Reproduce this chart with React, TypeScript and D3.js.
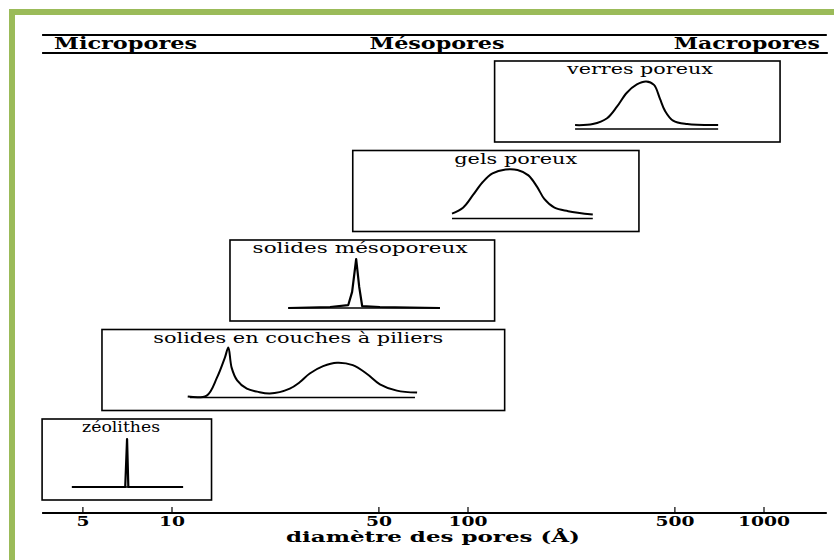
import React from 'react';
import * as d3 from 'd3';

// ---- data ----
const categories = ['verres poreux', 'gels poreux', 'solides mésoporeux', 'solides en couches à piliers', 'zéolithes'];
// diameter range (Å) covered by each box
const boxMin = [123, 40.8, 15.7, 5.8, 3.64];
const boxMax = [1133, 378, 123, 133, 13.6];
// diameter under the centre of each label
const labelAt = [381, 145, 43.2, 26.7, 6.73];
// diameter range of each baseline under the distributions
const baseMin = [230, 88.3, 24.7, 11.5, 4.59];
const baseMax = [700, 264, 80.4, 66.2, 10.9];

// pore size distributions: [diameter (Å), relative height]
const verresCurve: [number, number][] = [
  [230, 0.08], [264, 0.1], [295, 0.22], [319, 0.46], [344, 0.74], [372, 0.91], [400, 0.97],
  [425, 0.9], [445, 0.62], [463, 0.37], [493, 0.17], [550, 0.1], [700, 0.08],
];
const gelsCurve: [number, number][] = [
  [88.3, 0.1], [96.2, 0.22], [104, 0.48], [112, 0.74], [121, 0.92], [134, 1.0], [147, 0.99],
  [160, 0.88], [171, 0.65], [181, 0.4], [196, 0.22], [218, 0.15], [264, 0.08],
];
const mesoCurve: [number, number][] = [
  [24.7, 0], [34.2, 0.02], [39.4, 0.06], [40.6, 0.33], [41.9, 1.0], [42.9, 0.43], [43.9, 0.04],
  [50.4, 0.02], [80.4, 0],
];
const piliersCurve: [number, number][] = [
  [11.3, 0.02], [13.1, 0.04], [14.2, 0.41], [15.1, 0.82], [15.5, 1.02], [15.9, 0.61], [16.6, 0.35],
  [17.9, 0.18], [19.4, 0.12], [21.4, 0.08], [25.0, 0.18], [27.0, 0.31], [29.2, 0.49], [32.4, 0.64],
  [36.1, 0.71], [40.8, 0.66], [45.6, 0.48], [50.4, 0.27], [57.5, 0.14], [67.3, 0.1],
];
const zeoCurve: [number, number][] = [
  [4.59, 0], [6.95, 0], [7.05, 0.98], [7.12, 0], [10.9, 0],
];
const curves = [verresCurve, gelsCurve, mesoCurve, piliersCurve, zeoCurve];
const spiky = [false, false, true, false, true];

const regions = ['Micropores', 'Mésopores', 'Macropores'];
const tickValues = [5, 10, 50, 100, 500, 1000];
const axisDomain = [3.64, 1630];
const axisTitle = 'diamètre des pores (Å)';

// ---- layout ----
const W = 834;
const H = 560;
const GREEN = '#9bbb59';
const labelWidths = [146, 123, 215, 290, 78];
const regionWidths = [143, 135, 146];

export default function App() {
  const x = d3.scaleLog().domain([10, 1000]).range([172, 764]);
  const rows = d3.scaleBand<string>().domain(categories).range([61, 500]).paddingInner(0.095).paddingOuter(0);

  const x0 = x(axisDomain[0]);
  const x1 = x(axisDomain[1]);
  const serif = '"DejaVu Serif", serif';

  return (
    <svg width={W} height={H} style={{ position: 'absolute', left: 0, top: 0, background: '#fff' }}>
      <rect x={0} y={0} width={W} height={H} fill="#fff" />
      {/* green frame */}
      <rect x={9} y={9} width={W - 9} height={6} fill={GREEN} />
      <rect x={9} y={9} width={6} height={H - 9} fill={GREEN} />

      {/* header */}
      <line x1={x0} x2={x1} y1={35} y2={35} stroke="#000" strokeWidth={2} />
      <line x1={x0} x2={x1 + 1} y1={53} y2={53} stroke="#000" strokeWidth={2} />
      {regions.map((r, i) => {
        const anchor = i === 0 ? 'start' : i === 1 ? 'middle' : 'end';
        const px = i === 0 ? x0 + 12 : i === 1 ? 437 : x1 - 7;
        return (
          <text key={r} x={px} y={49} textAnchor={anchor} fontFamily={serif} fontWeight="bold" fontSize={16}
            textLength={regionWidths[i]} lengthAdjust="spacingAndGlyphs" fill="#000">{r}</text>
        );
      })}

      {/* boxes */}
      {categories.map((c, i) => {
        const top = rows(c)!;
        const bh = rows.bandwidth();
        const y = d3.scaleLinear().domain([0, 1]).range([top + 68, top + 19]);
        const line = d3.line<[number, number]>()
          .x(d => x(d[0]))
          .y(d => y(d[1]))
          .curve(spiky[i] ? d3.curveLinear : d3.curveCatmullRom.alpha(0.5));
        return (
          <g key={c}>
            <rect x={x(boxMin[i])} y={top} width={x(boxMax[i]) - x(boxMin[i])} height={bh}
              fill="none" stroke="#000" strokeWidth={1.6} />
            <text x={x(labelAt[i])} y={top + 13} textAnchor="middle" fontFamily={serif} fontSize={15}
              textLength={labelWidths[i]} lengthAdjust="spacingAndGlyphs" fill="#000">{c}</text>
            <line x1={x(baseMin[i])} x2={x(baseMax[i])} y1={y(0)} y2={y(0)} stroke="#000" strokeWidth={1.4} />
            <path d={line(curves[i]) || ''} fill="none" stroke="#000" strokeWidth={spiky[i] ? 2.2 : 2}
              strokeLinejoin="round" />
          </g>
        );
      })}

      {/* bottom axis */}
      <line x1={x0} x2={x1} y1={513} y2={513} stroke="#000" strokeWidth={2} />
      {tickValues.map(t => (
        <g key={t}>
          <line x1={x(t)} x2={x(t)} y1={507} y2={513} stroke="#000" strokeWidth={1.2} />
          <text x={x(t)} y={526} textAnchor="middle" fontFamily={serif} fontWeight="bold" fontSize={13}
            textLength={String(t).length * 13} lengthAdjust="spacingAndGlyphs" fill="#000">{t}</text>
        </g>
      ))}
      <text x={433} y={542} textAnchor="middle" fontFamily={serif} fontWeight="bold" fontSize={14}
        textLength={294} lengthAdjust="spacingAndGlyphs" fill="#000">{axisTitle}</text>
    </svg>
  );
}
